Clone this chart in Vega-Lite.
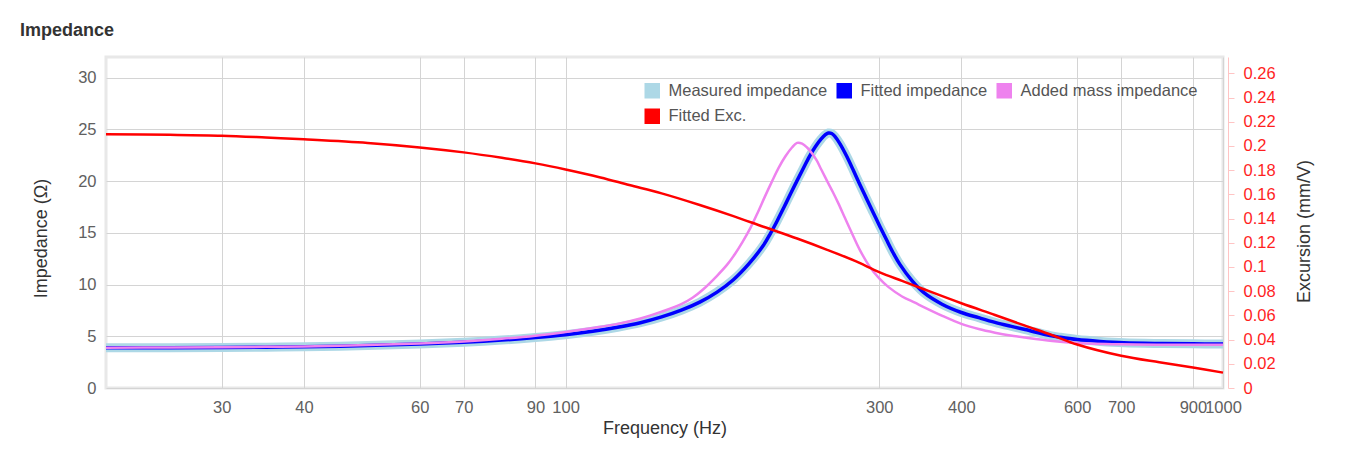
{
  "$schema": "https://vega.github.io/schema/vega-lite/v6.json",
  "width": 1117,
  "height": 331,
  "autosize": {"type": "none"},
  "padding": {"left": 106, "top": 57, "right": 125, "bottom": 65},
  "background": "white",
  "title": {"text": "Impedance", "anchor": "start", "frame": "group", "dx": -86, "offset": 3, "baseline": "alphabetic", "fontSize": 18, "fontWeight": "bold", "font": "Liberation Sans", "color": "#333333"},
  "config": {
    "font": "Liberation Sans",
    "view": {"stroke": "#e8e8e8", "strokeWidth": 3}
  },
  "datasets": {
    "fit": [
      {"f": 20, "z": 3.88}, {"f": 25, "z": 3.9}, {"f": 30, "z": 3.92}, {"f": 35, "z": 3.95}, {"f": 40, "z": 3.99}, {"f": 50, "z": 4.1}, {"f": 60, "z": 4.25}, {"f": 70, "z": 4.42}, {"f": 80, "z": 4.63}, {"f": 90, "z": 4.88}, {"f": 100, "z": 5.15}, {"f": 110, "z": 5.48}, {"f": 120, "z": 5.87}, {"f": 130, "z": 6.31}, {"f": 140, "z": 6.87}, {"f": 150, "z": 7.52}, {"f": 160, "z": 8.3}, {"f": 170, "z": 9.27}, {"f": 180, "z": 10.47}, {"f": 190, "z": 12.0}, {"f": 200, "z": 13.8}, {"f": 205, "z": 14.95}, {"f": 210, "z": 16.2}, {"f": 215, "z": 17.5}, {"f": 220, "z": 18.8}, {"f": 225, "z": 20.05}, {"f": 230, "z": 21.25}, {"f": 235, "z": 22.4}, {"f": 240, "z": 23.35}, {"f": 245, "z": 24.1}, {"f": 248, "z": 24.45}, {"f": 251, "z": 24.65}, {"f": 254, "z": 24.6}, {"f": 257, "z": 24.3}, {"f": 261.5, "z": 23.6}, {"f": 267.7, "z": 22.4}, {"f": 274.2, "z": 21.0}, {"f": 280.4, "z": 19.65}, {"f": 287, "z": 18.3}, {"f": 293.8, "z": 16.95}, {"f": 300.8, "z": 15.6}, {"f": 307.9, "z": 14.3}, {"f": 315.1, "z": 13.05}, {"f": 322.5, "z": 11.95}, {"f": 336.2, "z": 10.4}, {"f": 350, "z": 9.26}, {"f": 373.8, "z": 8.1}, {"f": 400, "z": 7.3}, {"f": 425, "z": 6.8}, {"f": 450, "z": 6.35}, {"f": 475, "z": 5.98}, {"f": 500, "z": 5.65}, {"f": 546, "z": 5.07}, {"f": 566, "z": 4.9}, {"f": 600, "z": 4.68}, {"f": 650, "z": 4.5}, {"f": 707, "z": 4.37}, {"f": 800, "z": 4.3}, {"f": 900, "z": 4.27}, {"f": 1000, "z": 4.26}
    ],
    "added": [
      {"f": 20, "z": 3.9}, {"f": 25, "z": 3.92}, {"f": 30, "z": 3.95}, {"f": 35, "z": 3.98}, {"f": 40, "z": 4.02}, {"f": 50, "z": 4.15}, {"f": 60, "z": 4.3}, {"f": 70, "z": 4.5}, {"f": 80, "z": 4.76}, {"f": 90, "z": 5.06}, {"f": 100, "z": 5.42}, {"f": 110, "z": 5.8}, {"f": 120, "z": 6.2}, {"f": 130, "z": 6.72}, {"f": 140, "z": 7.38}, {"f": 150, "z": 8.1}, {"f": 156, "z": 8.72}, {"f": 162, "z": 9.55}, {"f": 170, "z": 10.85}, {"f": 176, "z": 11.9}, {"f": 181, "z": 12.95}, {"f": 186, "z": 14.15}, {"f": 191, "z": 15.45}, {"f": 196, "z": 16.95}, {"f": 201, "z": 18.5}, {"f": 206, "z": 19.95}, {"f": 211, "z": 21.3}, {"f": 216, "z": 22.4}, {"f": 221, "z": 23.25}, {"f": 225, "z": 23.7}, {"f": 229, "z": 23.62}, {"f": 233, "z": 23.25}, {"f": 237, "z": 22.7}, {"f": 241, "z": 22.0}, {"f": 245, "z": 21.1}, {"f": 250, "z": 20.0}, {"f": 255, "z": 18.95}, {"f": 260, "z": 17.85}, {"f": 266, "z": 16.45}, {"f": 272, "z": 15.1}, {"f": 280, "z": 13.4}, {"f": 290, "z": 11.75}, {"f": 300, "z": 10.6}, {"f": 310, "z": 9.75}, {"f": 325, "z": 8.85}, {"f": 340, "z": 8.25}, {"f": 350, "z": 7.85}, {"f": 375, "z": 6.95}, {"f": 400, "z": 6.2}, {"f": 425, "z": 5.7}, {"f": 450, "z": 5.35}, {"f": 475, "z": 5.08}, {"f": 500, "z": 4.88}, {"f": 550, "z": 4.55}, {"f": 600, "z": 4.35}, {"f": 700, "z": 4.22}, {"f": 800, "z": 4.18}, {"f": 1000, "z": 4.17}
    ],
    "exc": [
      {"f": 20, "e": 0.2096}, {"f": 25, "e": 0.2092}, {"f": 30, "e": 0.2085}, {"f": 35, "e": 0.207}, {"f": 40, "e": 0.2055}, {"f": 50, "e": 0.2025}, {"f": 60, "e": 0.1988}, {"f": 70, "e": 0.1947}, {"f": 80, "e": 0.1902}, {"f": 90, "e": 0.1856}, {"f": 100, "e": 0.1806}, {"f": 113, "e": 0.174}, {"f": 125, "e": 0.1677}, {"f": 140, "e": 0.1608}, {"f": 160, "e": 0.1512}, {"f": 180, "e": 0.142}, {"f": 200, "e": 0.1332}, {"f": 225, "e": 0.1235}, {"f": 250, "e": 0.1142}, {"f": 275, "e": 0.1052}, {"f": 300, "e": 0.0958}, {"f": 325, "e": 0.0885}, {"f": 350, "e": 0.0818}, {"f": 400, "e": 0.07}, {"f": 450, "e": 0.0603}, {"f": 500, "e": 0.0515}, {"f": 550, "e": 0.0436}, {"f": 600, "e": 0.0359}, {"f": 700, "e": 0.0266}, {"f": 800, "e": 0.0212}, {"f": 900, "e": 0.0169}, {"f": 1000, "e": 0.0127}
    ]
  },
  "encoding": {
    "x": {
      "field": "f", "type": "quantitative",
      "scale": {"type": "log", "domain": [20, 1000], "nice": false},
      "axis": {"values": [30, 40, 60, 70, 90, 100, 300, 400, 600, 700, 900, 1000], "format": "d", "title": "Frequency (Hz)", "grid": true, "gridColor": "#d4d4d4", "gridWidth": 1, "ticks": false, "tickSize": 0, "domain": false, "labelPadding": 11, "labelFontSize": 16.5, "labelColor": "#606060", "labelOverlap": false, "labelFlush": false, "labelBound": false, "titleFontSize": 18, "titleFontWeight": "normal", "titleColor": "#333333", "titlePadding": 4}
    }
  },
  "layer": [
    {
      "encoding": {
        "y": {
          "field": "z", "type": "quantitative",
          "scale": {"domain": [0, 32], "nice": false, "zero": true},
          "axis": {"values": [0, 5, 10, 15, 20, 25, 30], "title": "Impedance (Ω)", "grid": true, "gridColor": "#d4d4d4", "gridWidth": 1, "ticks": false, "tickSize": 0, "domain": false, "labelPadding": 10, "labelFontSize": 16.5, "labelColor": "#606060", "titleFontSize": 18, "titleFontWeight": "normal", "titleColor": "#333333", "titlePadding": 27, "titleY": 181}
        },
        "color": {
          "datum": "Measured impedance",
          "type": "nominal",
          "scale": {"domain": ["Measured impedance", "Added mass impedance", "Fitted impedance", "Fitted Exc."], "range": ["#add8e6", "#ee82ee", "#0000ff", "#ff0000"]},
          "legend": {"title": null, "values": ["Measured impedance", "Added mass impedance", "Fitted impedance", "Fitted Exc."], "orient": "top-right", "offset": 25, "padding": 0, "columns": 3, "symbolType": "square", "symbolSize": 196, "symbolStrokeWidth": 1.5, "symbolStrokeColor": "#cccccc", "labelFontSize": 16.5, "labelColor": "#555555", "labelOffset": 8, "labelLimit": 400, "columnPadding": 6, "rowPadding": 5,
            "encode": {"symbols": {"update": {"fill": {"scale": "color", "field": "value"}, "fillOpacity": {"value": 1}, "stroke": {"value": "#cccccc"}, "strokeWidth": {"value": 1.5}, "opacity": {"value": 1}}}}}
        }
      },
      "layer": [
        {"data": {"name": "fit"}, "mark": {"type": "line", "interpolate": "catmull-rom", "strokeWidth": 9}},
        {"data": {"name": "fit"}, "mark": {"type": "line", "interpolate": "catmull-rom", "strokeWidth": 3.5}, "encoding": {"color": {"datum": "Fitted impedance", "type": "nominal"}}},
        {"data": {"name": "added"}, "mark": {"type": "line", "interpolate": "catmull-rom", "strokeWidth": 2.5}, "encoding": {"color": {"datum": "Added mass impedance", "type": "nominal"}}}
      ]
    },
    {
      "data": {"name": "exc"},
      "mark": {"type": "line", "interpolate": "catmull-rom", "strokeWidth": 2.5},
      "encoding": {
        "y": {
          "field": "e", "type": "quantitative",
          "scale": {"domain": [0, 0.2735], "nice": false},
          "axis": {"orient": "right", "values": [0, 0.02, 0.04, 0.06, 0.08, 0.1, 0.12, 0.14, 0.16, 0.18, 0.2, 0.22, 0.24, 0.26], "format": ".2~f", "title": "Excursion (mm/V)", "grid": false, "offset": 5, "domain": true, "domainColor": "#ffc4c4", "tickColor": "#ffc4c4", "tickSize": 6, "labelPadding": 9, "labelColor": "#ff1f1f", "labelFontSize": 16.5, "titleFontSize": 18, "titleFontWeight": "normal", "titleColor": "#333333", "titleAngle": 270, "titleBaseline": "top", "titlePadding": 20, "titleY": 174}
        },
        "color": {"datum": "Fitted Exc.", "type": "nominal"}
      }
    }
  ],
  "resolve": {"scale": {"y": "independent"}}
}
